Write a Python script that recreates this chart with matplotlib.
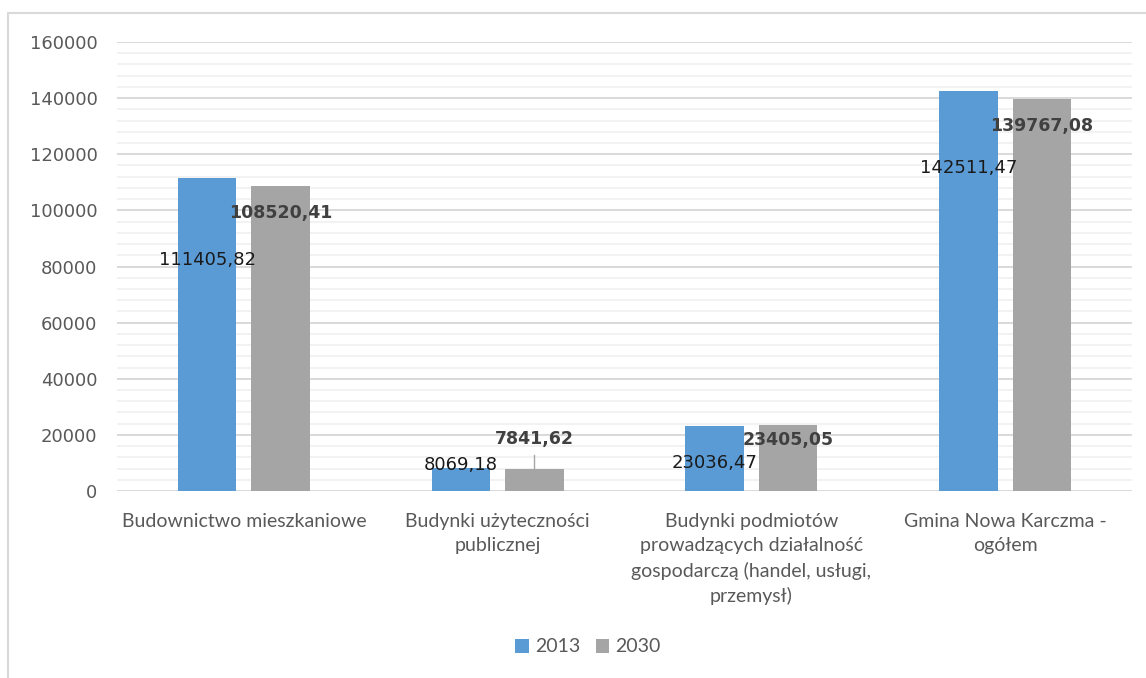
import matplotlib
matplotlib.use('Agg')
import matplotlib.pyplot as plt
from matplotlib.patches import Rectangle
from matplotlib.ticker import MultipleLocator
import numpy as np

# dane
kategorie = ['Budownictwo mieszkaniowe',
             'Budynki użyteczności\npublicznej',
             'Budynki podmiotów\nprowadzących działalność\ngospodarczą (handel, usługi,\nprzemysł)',
             'Gmina Nowa Karczma -\nogółem']
lata = ['2013', '2030']
wart_2013 = [111405.82, 8069.18, 23036.47, 142511.47]
wart_2030 = [108520.41, 7841.62, 23405.05, 139767.08]
etyk_2013 = ['111405,82', '8069,18', '23036,47', '142511,47']
etyk_2030 = ['108520,41', '7841,62', '23405,05', '139767,08']
# wysokości, na których stoją etykiety (przesunięte ręcznie)
poz_2013 = [82300, 9300, 10000, 115100]
poz_2030 = [99100, 18500, 18200, 130000]

kol_2013 = '#5B9BD5'
kol_2030 = '#A5A5A5'

fig = plt.figure(figsize=(11.46, 6.78), dpi=100)
fig.patch.set_facecolor('white')

# ramka obszaru wykresu
fig.patches.append(Rectangle((8 / 1146, -0.05), 1.2, 1 - 13 / 678 + 0.05,
                             transform=fig.transFigure, fill=False,
                             edgecolor='#D9D9D9', linewidth=1.5))

ax = fig.add_axes([117 / 1146, 1 - 491 / 678, 1015 / 1146, 449 / 678])
x = np.arange(len(kategorie))
szer = 0.23
odst = 0.145

ax.bar(x - odst, wart_2013, szer, color=kol_2013, label=lata[0], zorder=3)
ax.bar(x + odst, wart_2030, szer, color=kol_2030, label=lata[1], zorder=3)

ax.set_xlim(-0.5, 3.5)
ax.set_ylim(0, 160000)
ax.yaxis.set_major_locator(MultipleLocator(20000))
ax.yaxis.set_minor_locator(MultipleLocator(4000))
ax.grid(axis='y', which='major', color='#D9D9D9', linewidth=1.4, zorder=0)
ax.grid(axis='y', which='minor', color='#F0F0F0', linewidth=1.2, zorder=0)
for s in ax.spines.values():
    s.set_visible(False)
ax.tick_params(axis='both', which='both', length=0)
ax.tick_params(axis='y', labelsize=13, labelcolor='#595959', pad=14)

ax.set_xticks(x)
ax.set_xticklabels(kategorie, fontsize=14, color='#595959',
                   family=['Lato', 'DejaVu Sans'], linespacing=1.5,
                   va='top')
ax.tick_params(axis='x', pad=16)

for i in range(len(kategorie)):
    ax.text(x[i] - odst, poz_2013[i], etyk_2013[i], ha='center', va='center',
            fontsize=13, color='#1A1A1A', zorder=5)
    ax.text(x[i] + odst, poz_2030[i], etyk_2030[i], ha='center', va='center',
            fontsize=12.5, fontweight='bold', color='#404040', zorder=5)

# linia odniesienia do etykiety 7841,62
ax.plot([x[1] + odst, x[1] + odst], [wart_2030[1], poz_2030[1] - 5800],
        color='#A6A6A6', linewidth=1, zorder=4)

uchwyty, opisy = ax.get_legend_handles_labels()
fig.legend(uchwyty, opisy, loc='center', bbox_to_anchor=(588 / 1146, 1 - 647 / 678),
           ncol=2, frameon=False, labelcolor='#595959',
           handlelength=0.7, handleheight=0.7, handletextpad=0.3,
           columnspacing=0.8, prop={'family': ['Lato', 'DejaVu Sans'], 'size': 14})

fig.savefig('out.png', dpi=100)
